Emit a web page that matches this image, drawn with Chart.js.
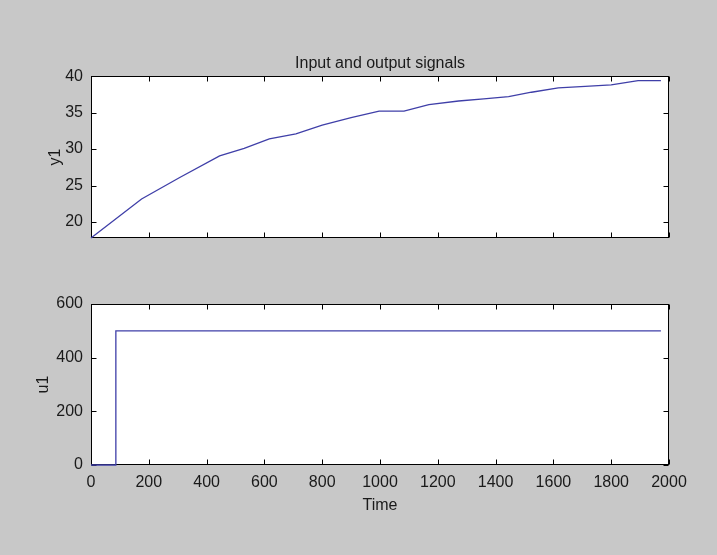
<!DOCTYPE html>
<html>
<head>
<meta charset="utf-8">
<title>Input and output signals</title>
<script src="https://cdn.jsdelivr.net/npm/chart.js@4"></script>
<style>
  html, body { margin: 0; padding: 0; background: #c8c8c8; }
  #wrap { position: relative; width: 717px; height: 555px; }
  #wrap canvas { position: absolute; left: 0; top: 0; }
</style>
</head>
<body>
<div id="wrap">
  <canvas id="topChart" width="717" height="555"></canvas>
  <canvas id="bottomChart" width="717" height="555"></canvas>
</div>
<script>
// output signal y1
const outTime   = [0, 175, 307, 445, 530, 617, 709, 800, 900, 997, 1083, 1169, 1272, 1359, 1445, 1524, 1617, 1710, 1800, 1893, 1972];
const outValues = [17.8, 23.15, 26.1, 29.07, 30.1, 31.4, 32.1, 33.3, 34.3, 35.2, 35.2, 36.1, 36.6, 36.9, 37.2, 37.8, 38.4, 38.6, 38.8, 39.4, 39.4];

// input signal u1 (step)
const inTime   = [0, 86, 86, 1972];
const inValues = [0, 0, 500, 500];

// tick labels
const timeTicks = [0, 200, 400, 600, 800, 1000, 1200, 1400, 1600, 1800, 2000];
const outTicks  = [20, 25, 30, 35, 40];
const inTicks   = [0, 200, 400, 600];

const LINE = '#3f3fa8';
const TEXT = '#1a1a1a';
const FONT = { family: '"Liberation Sans", Arial, Helvetica, sans-serif', size: 16 };

// white plot area, black box, inward ticks on all four sides (matlab look)
const axesBox = {
  id: 'axesBox',
  beforeDatasetsDraw(chart) {
    const { ctx, chartArea: a, scales } = chart;
    const L = Math.round(a.left) + 0.5, R = Math.round(a.right) - 0.5;
    const T = Math.round(a.top) + 0.5, B = Math.round(a.bottom) - 0.5;
    const len = 5;
    ctx.save();
    ctx.fillStyle = '#ffffff';
    ctx.fillRect(a.left, a.top, a.right - a.left, a.bottom - a.top);
    ctx.strokeStyle = '#000000';
    ctx.lineWidth = 1;
    ctx.beginPath();
    scales.x.ticks.forEach(t => {
      const px = Math.round(scales.x.getPixelForValue(t.value)) + 0.5;
      ctx.moveTo(px, B); ctx.lineTo(px, B - len);
      ctx.moveTo(px, T); ctx.lineTo(px, T + len);
    });
    scales.y.ticks.forEach(t => {
      const py = Math.round(scales.y.getPixelForValue(t.value)) + 0.5;
      ctx.moveTo(L, py); ctx.lineTo(L + len, py);
      ctx.moveTo(R, py); ctx.lineTo(R - len, py);
    });
    ctx.stroke();
    ctx.strokeRect(L, T, R - L, B - T);
    ctx.restore();
  }
};

const toTicks = arr => scale => { scale.ticks = arr.map(v => ({ value: v })); };
const plain = v => String(v);

function points(xs, ys) {
  return xs.map((x, i) => ({ x: x, y: ys[i] }));
}

Chart.defaults.font = FONT;
Chart.defaults.color = TEXT;

// 上图：输出
new Chart(document.getElementById('topChart'), {
  type: 'line',
  data: {
    datasets: [{
      data: points(outTime, outValues),
      borderColor: LINE,
      borderWidth: 1.3,
      pointRadius: 0,
      tension: 0,
      clip: false
    }]
  },
  options: {
    responsive: false,
    animation: false,
    events: [],
    layout: { padding: { left: 0, right: 48, top: 0, bottom: 317 } },
    plugins: {
      legend: { display: false },
      tooltip: { enabled: false },
      title: {
        display: true,
        text: 'Input and output signals',
        color: TEXT,
        font: { size: 16, weight: 'normal' },
        fullSize: false,
        padding: { top: 54, bottom: 3 }
      }
    },
    scales: {
      x: {
        type: 'linear',
        min: 0,
        max: 2000,
        afterBuildTicks: toTicks(timeTicks),
        afterFit: s => { s.height = 0; },
        ticks: { display: false },
        grid: { display: false, drawTicks: false },
        border: { display: false }
      },
      y: {
        min: 17.8,
        max: 40,
        afterBuildTicks: toTicks(outTicks),
        afterFit: s => { s.width = 91; },
        ticks: { padding: 8, color: TEXT, callback: plain },
        grid: { display: false, drawTicks: false },
        border: { display: false },
        title: { display: true, text: 'y1', color: TEXT, padding: { top: 46, bottom: 0 } }
      }
    }
  },
  plugins: [axesBox]
});

// 下图：输入
new Chart(document.getElementById('bottomChart'), {
  type: 'line',
  data: {
    datasets: [{
      data: points(inTime, inValues),
      borderColor: LINE,
      borderWidth: 1.3,
      pointRadius: 0,
      tension: 0,
      clip: false
    }]
  },
  options: {
    responsive: false,
    animation: false,
    events: [],
    layout: { padding: { left: 0, right: 48, top: 304, bottom: 0 } },
    plugins: {
      legend: { display: false },
      tooltip: { enabled: false }
    },
    scales: {
      x: {
        type: 'linear',
        min: 0,
        max: 2000,
        afterBuildTicks: toTicks(timeTicks),
        afterFit: s => { s.height = 90; },
        ticks: { padding: 8, color: TEXT, maxRotation: 0, autoSkip: false, callback: plain },
        grid: { display: false, drawTicks: false },
        border: { display: false },
        title: { display: true, text: 'Time', color: TEXT, padding: { top: 0, bottom: 40 } }
      },
      y: {
        min: 0,
        max: 600,
        afterBuildTicks: toTicks(inTicks),
        afterFit: s => { s.width = 91; },
        ticks: { padding: 8, color: TEXT, callback: plain },
        grid: { display: false, drawTicks: false },
        border: { display: false },
        title: { display: true, text: 'u1', color: TEXT, padding: { top: 34, bottom: 0 } }
      }
    }
  },
  plugins: [axesBox]
});
</script>
</body>
</html>
